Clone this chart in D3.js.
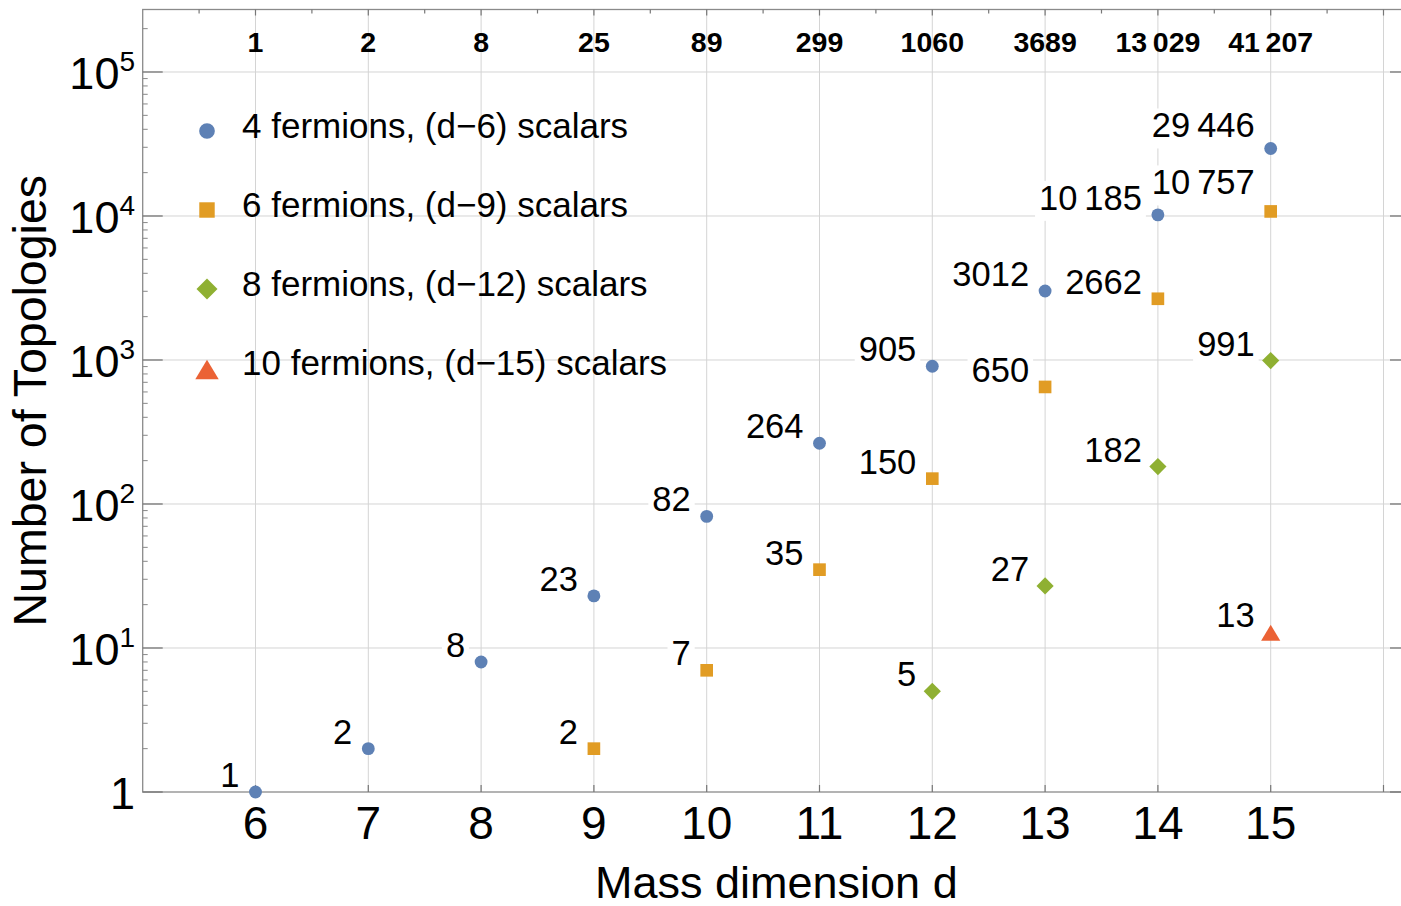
<!DOCTYPE html>
<html>
<head>
<meta charset="utf-8">
<script src="https://cdn.jsdelivr.net/npm/d3@7"></script>
<style>
  body { margin: 0; background: #fff; }
  svg { display: block; font-family: "Liberation Sans", Arial, sans-serif; }
</style>
</head>
<body>
<svg id="chart" width="1401" height="906"></svg>
<script>
// data
var dims = [6, 7, 8, 9, 10, 11, 12, 13, 14, 15];
var totals = [1, 2, 8, 25, 89, 299, 1060, 3689, 13029, 41207];

var seriesNames = [
  "4 fermions, (d\u22126) scalars",
  "6 fermions, (d\u22129) scalars",
  "8 fermions, (d\u221212) scalars",
  "10 fermions, (d\u221215) scalars"
];
var f4 = [[6, 1], [7, 2], [8, 8], [9, 23], [10, 82], [11, 264], [12, 905], [13, 3012], [14, 10185], [15, 29446]];
var f6 = [[9, 2], [10, 7], [11, 35], [12, 150], [13, 650], [14, 2662], [15, 10757]];
var f8 = [[12, 5], [13, 27], [14, 182], [15, 991]];
var f10 = [[15, 13]];
var yTicks = [1, 10, 100, 1000, 10000, 100000];

// label nudges (mathematica moved a couple of them up)
var nudge = { "15:29446": -6, "15:10757": -12 };

var colors = ["#5e81b5", "#e19c24", "#8fb032", "#eb6235"];

var pLeft = 142.7, pRight = 1410, pTop = 9.5, pBottom = 792;

var x = d3.scaleLinear().domain([5, 16.235]).range([pLeft, pRight]);
var y = d3.scaleLog().domain([1, Math.pow(10, 5.434)]).range([pBottom, pTop]);

var svg = d3.select("#chart");

function fmt(v) {
  var s = String(v);
  if (v >= 10000) s = s.slice(0, s.length - 3) + "\u2009" + s.slice(-3);
  return s;
}

// marker shapes, k = scale
function marker(i, k) {
  if (i === 0) return d3.symbol().type(d3.symbolCircle).size(130 * k * k)();
  if (i === 1) return d3.symbol().type(d3.symbolSquare).size(160 * k * k)();
  if (i === 2) {
    var h = 8.6 * k;
    return "M0," + (-h) + "L" + h + ",0L0," + h + "L" + (-h) + ",0Z";
  }
  var w = 9.6 * k, ht = 16 * k;
  return "M0," + (-ht * 0.42) + "L" + w + "," + (ht * 0.58) + "L" + (-w) + "," + (ht * 0.58) + "Z";
}

// grid
var grid = svg.append("g").attr("stroke", "#d4d4d4").attr("stroke-width", 1);
grid.selectAll(".vg").data(d3.range(6, 17)).enter().append("line")
  .attr("x1", function(d) { return x(d); }).attr("x2", function(d) { return x(d); })
  .attr("y1", pTop).attr("y2", pBottom);
grid.selectAll(".hg").data(yTicks.slice(1)).enter().append("line")
  .attr("x1", pLeft).attr("x2", pRight)
  .attr("y1", function(d) { return y(d); }).attr("y2", function(d) { return y(d); });

// point labels with white boxes
var all = [f4, f6, f8, f10];
var labelG = svg.append("g");
all.forEach(function(s) {
  s.forEach(function(p) {
    var dy = nudge[p[0] + ":" + p[1]] || 0;
    var t = labelG.append("text")
      .attr("x", x(p[0]) - 16)
      .attr("y", y(p[1]) - 5 + dy)
      .attr("text-anchor", "end")
      .attr("font-size", 34.5)
      .text(fmt(p[1]));
    var bb = t.node().getBBox();
    labelG.insert("rect", "text")
      .attr("x", bb.x - 4).attr("y", bb.y + 2)
      .attr("width", bb.width + 8).attr("height", bb.height + 2)
      .attr("fill", "#fff");
  });
});

// frame
var frame = svg.append("g").attr("stroke", "#8a8a8a").attr("fill", "none");
frame.append("rect").attr("x", pLeft).attr("y", pTop)
  .attr("width", pRight - pLeft).attr("height", pBottom - pTop).attr("stroke-width", 1.3);

// y ticks, both sides
var minor = [];
for (var e = 0; e < 6; e++) {
  for (var m = 2; m <= 9; m++) {
    var v = m * Math.pow(10, e);
    if (v < y.domain()[1]) minor.push(v);
  }
}
[pLeft, pRight].forEach(function(xx, i) {
  var sgn = i === 0 ? 1 : -1;
  frame.selectAll(null).data(yTicks).enter().append("line")
    .attr("stroke", "#777").attr("stroke-width", 1.3)
    .attr("x1", xx).attr("x2", xx + sgn * 20)
    .attr("y1", function(d) { return y(d); }).attr("y2", function(d) { return y(d); });
  frame.selectAll(null).data(minor).enter().append("line")
    .attr("stroke", "#888").attr("stroke-width", 1)
    .attr("x1", xx).attr("x2", xx + sgn * 5)
    .attr("y1", function(d) { return y(d); }).attr("y2", function(d) { return y(d); });
});

// x ticks: bottom at integers, top at halves
frame.selectAll(null).data(d3.range(6, 17)).enter().append("line")
  .attr("stroke", "#777").attr("stroke-width", 1.2)
  .attr("x1", function(d) { return x(d); }).attr("x2", function(d) { return x(d); })
  .attr("y1", pBottom).attr("y2", pBottom - 7);
frame.selectAll(null).data(d3.range(5.5, 16.3, 0.5)).enter().append("line")
  .attr("stroke", "#777").attr("stroke-width", 1.2)
  .attr("x1", function(d) { return x(d); }).attr("x2", function(d) { return x(d); })
  .attr("y1", pTop).attr("y2", function(d) { return pTop + (d % 1 === 0 ? 6 : 4); });

// tick labels
svg.append("g").selectAll("text").data(dims).enter().append("text")
  .attr("x", function(d) { return x(d); })
  .attr("y", 839)
  .attr("text-anchor", "middle")
  .attr("font-size", 46)
  .text(function(d) { return d; });

var yl = svg.append("g").selectAll("text").data(yTicks).enter().append("text")
  .attr("x", 135)
  .attr("y", function(d) { return y(d) + 17; })
  .attr("text-anchor", "end")
  .attr("font-size", 45);
yl.each(function(d) {
  var t = d3.select(this);
  if (d === 1) { t.text("1"); return; }
  t.append("tspan").text("10");
  t.append("tspan").attr("font-size", 28).attr("dy", -18).text(Math.round(Math.log10(d)));
});

// totals across the top
svg.append("g").selectAll("text").data(totals).enter().append("text")
  .attr("x", function(d, i) { return x(dims[i]); })
  .attr("y", 52)
  .attr("text-anchor", "middle")
  .attr("font-size", 28.5)
  .attr("font-weight", "bold")
  .text(function(d) { return fmt(d); });

// axis titles
svg.append("text")
  .attr("x", (pLeft + pRight) / 2).attr("y", 898)
  .attr("text-anchor", "middle").attr("font-size", 45)
  .text("Mass dimension d");
svg.append("text")
  .attr("transform", "translate(46," + ((pTop + pBottom) / 2) + ") rotate(-90)")
  .attr("text-anchor", "middle").attr("font-size", 46.5)
  .text("Number of Topologies");

// markers
all.forEach(function(s, i) {
  svg.append("g").selectAll("path").data(s).enter().append("path")
    .attr("d", marker(i, 1))
    .attr("transform", function(p) {
      return "translate(" + x(p[0]) + "," + y(p[1]) + ")";
    })
    .attr("fill", colors[i]);
});

// legend
var leg = svg.append("g");
seriesNames.forEach(function(name, i) {
  var cy = 131 + i * 79;
  leg.append("path")
    .attr("d", marker(i, 1.22))
    .attr("transform", "translate(207," + cy + ")")
    .attr("fill", colors[i]);
  leg.append("text")
    .attr("x", 242).attr("y", cy + 7)
    .attr("font-size", 35)
    .text(name);
});
</script>
</body>
</html>
